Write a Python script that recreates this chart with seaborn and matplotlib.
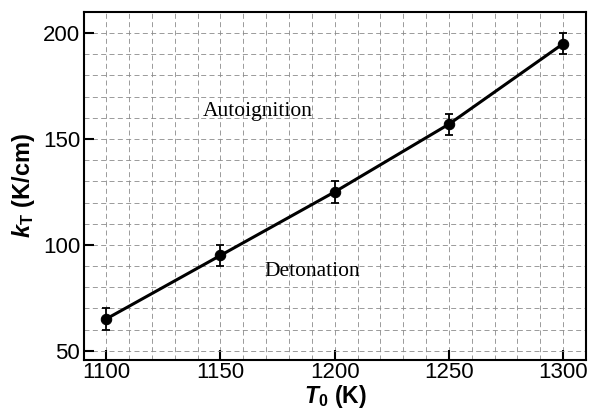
import matplotlib
matplotlib.use("Agg")
import matplotlib.pyplot as plt
import seaborn as sns
import pandas as pd
from matplotlib.ticker import MultipleLocator

T0 = [1100, 1150, 1200, 1250, 1300]
kT = [65, 95, 125, 157, 195]
err = [5, 5, 5, 5, 5]

sns.set_style("ticks")
plt.rcParams['font.family'] = ['Liberation Sans', 'DejaVu Sans']
plt.rcParams['mathtext.fontset'] = 'custom'
plt.rcParams['mathtext.rm'] = 'Liberation Sans'
plt.rcParams['mathtext.it'] = 'Liberation Sans:italic'
plt.rcParams['mathtext.bf'] = 'Liberation Sans:bold'
plt.rcParams['mathtext.bfit'] = 'Liberation Sans:italic:bold'
plt.rcParams['text.color'] = 'black'
plt.rcParams['axes.labelcolor'] = 'black'
plt.rcParams['xtick.color'] = 'black'
plt.rcParams['ytick.color'] = 'black'

df = pd.DataFrame({"T0": T0, "kT": kT})
fig, ax = plt.subplots(figsize=(5.89, 4.11), dpi=100)
fig.subplots_adjust(left=0.143, right=0.995, top=0.971, bottom=0.125)

sns.lineplot(data=df, x="T0", y="kT", ax=ax, color="black", lw=2.2,
             marker="o", markersize=7.5, markeredgecolor="black", zorder=3)
ax.errorbar(T0, kT, yerr=err, fmt="none", ecolor="black", elinewidth=1.3,
            capsize=3, capthick=1.3, zorder=3)

ax.set_xlim(1090.4, 1310)
ax.set_ylim(45.8, 210)
ax.xaxis.set_major_locator(MultipleLocator(50))
ax.xaxis.set_minor_locator(MultipleLocator(10))
ax.yaxis.set_major_locator(MultipleLocator(50))
ax.yaxis.set_minor_locator(MultipleLocator(10))
ax.grid(which="both", color="#8a8a8a", linestyle=(0, (6, 4)), linewidth=0.6)
ax.set_axisbelow(True)
ax.tick_params(which="major", direction="in", length=7, width=1.5, labelsize=16,
               top=False, right=False)
ax.tick_params(axis="x", which="major", pad=2)
ax.tick_params(axis="y", which="major", pad=3)
ax.tick_params(which="minor", direction="in", length=0, top=False, right=False)
for s in ax.spines.values():
    s.set_linewidth(1.5)
    s.set_color("black")

ax.set_xlabel(r"$\boldsymbol{T}_{\mathregular{0}}$ (K)", fontsize=16.5, fontweight="bold", labelpad=0)
ax.set_ylabel(r"$\boldsymbol{k}_{\mathregular{T}}$ (K/cm)", fontsize=17, fontweight="bold", labelpad=4)

ax.text(1166.5, 163, "Autoignition", family=["Liberation Serif"], fontsize=15.5,
        ha="center", va="center")
ax.text(1190, 87.5, "Detonation", family=["Liberation Serif"], fontsize=15.5,
        ha="center", va="center")

fig.savefig("out.png", dpi=100)
